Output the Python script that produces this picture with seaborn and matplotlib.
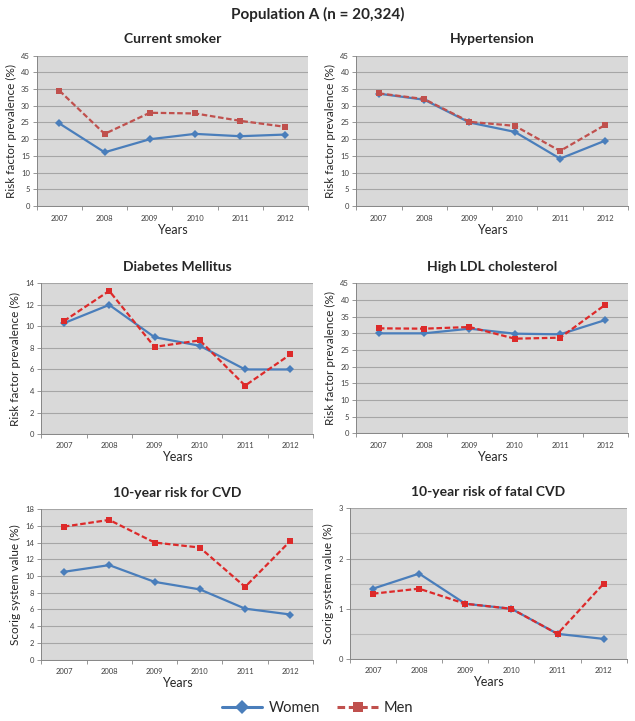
import pandas as pd
import matplotlib.pyplot as plt
import seaborn as sns
from matplotlib.ticker import MultipleLocator, FixedLocator

# Chart data
years = ['2007', '2008', '2009', '2010', '2011', '2012']
groups = ['Women', 'Men']

smoker_women = [24.7, 16.1, 20.0, 21.6, 20.9, 21.4]
smoker_men = [34.5, 21.6, 27.9, 27.7, 25.5, 23.7]
hypert_women = [33.6, 31.8, 25.0, 22.2, 14.2, 19.6]
hypert_men = [33.7, 32.0, 25.2, 24.0, 16.5, 24.3]
diabetes_women = [10.3, 12.0, 9.0, 8.2, 6.0, 6.0]
diabetes_men = [10.5, 13.3, 8.1, 8.7, 4.5, 7.4]
ldl_women = [30.0, 30.0, 31.4, 29.9, 29.7, 34.0]
ldl_men = [31.5, 31.4, 31.9, 28.4, 28.7, 38.6]
cvd_women = [10.5, 11.3, 9.3, 8.4, 6.1, 5.4]
cvd_men = [15.9, 16.7, 14.0, 13.4, 8.7, 14.2]
fatal_women = [1.4, 1.7, 1.1, 1.0, 0.5, 0.4]
fatal_men = [1.3, 1.4, 1.1, 1.0, 0.5, 1.5]

titles = ['Current smoker', 'Hypertension', 'Diabetes Mellitus',
          'High LDL cholesterol', '10-year risk for CVD', '10-year risk of fatal CVD']
ylabels = ['Risk factor prevalence (%)'] * 4 + ['Scorig system value (%)'] * 2
series = [(smoker_women, smoker_men), (hypert_women, hypert_men),
          (diabetes_women, diabetes_men), (ldl_women, ldl_men),
          (cvd_women, cvd_men), (fatal_women, fatal_men)]
ymax = [45, 45, 14, 45, 18, 3]
ystep = [5, 5, 2, 5, 2, 1]

sns.set_theme(style='white')
plt.rcParams['font.family'] = ['Lato', 'DejaVu Sans']

blue = '#4a7ebb'
red_dull = '#c0504d'
red_bright = '#dd2a2a'

fig = plt.figure(figsize=(6.35, 7.21), dpi=100)
positions = [
    [0.058, 0.714, 0.427, 0.209],
    [0.561, 0.714, 0.428, 0.209],
    [0.065, 0.398, 0.428, 0.209],
    [0.561, 0.399, 0.428, 0.208],
    [0.065, 0.085, 0.428, 0.209],
    [0.551, 0.086, 0.436, 0.209],
]

handles = None
for i, pos in enumerate(positions):
    ax = fig.add_axes(pos)
    ax.set_facecolor('#d9d9d9')
    women, men = series[i]
    df = pd.DataFrame({
        'Year': years * 2,
        'Value': women + men,
        'Sex': ['Women'] * len(years) + ['Men'] * len(years),
    })
    red = red_dull if i < 2 else red_bright
    sns.lineplot(data=df, x='Year', y='Value', hue='Sex', style='Sex',
                 hue_order=groups, style_order=groups,
                 palette={'Women': blue, 'Men': red},
                 markers={'Women': 'D', 'Men': 's'},
                 dashes={'Women': '', 'Men': (2.5, 1.2)},
                 linewidth=1.6, markersize=4, markeredgewidth=0,
                 ax=ax)
    if i == 0:
        handles, labels = ax.get_legend_handles_labels()
    ax.get_legend().remove()

    ax.set_xlim(-0.5, 5.5)
    ax.set_ylim(0, ymax[i])
    ax.yaxis.set_major_locator(MultipleLocator(ystep[i]))
    if i == 5:
        ax.yaxis.set_minor_locator(MultipleLocator(0.5))
        ax.grid(axis='y', which='minor', color='#b8b8b8', linewidth=0.8)
    ax.grid(axis='y', which='major', color='#a6a6a6', linewidth=0.8)
    ax.set_axisbelow(True)
    ax.xaxis.set_minor_locator(FixedLocator([-0.5 + k for k in range(7)]))
    ax.tick_params(axis='x', which='major', length=0, labelsize=5.5,
                   labelcolor='#404040', pad=6)
    ax.tick_params(axis='x', which='minor', length=3, color='#868686',
                   width=0.6, bottom=True)
    ax.tick_params(axis='y', which='major', length=3, color='#868686',
                   width=0.6, labelsize=5.5, labelcolor='#404040', left=True, pad=2)
    ax.tick_params(axis='y', which='minor', length=0)

    for side in ['top', 'right']:
        ax.spines[side].set_visible(False)
    for side in ['left', 'bottom']:
        ax.spines[side].set_color('#868686')
        ax.spines[side].set_linewidth(0.7)

    ax.set_title(titles[i], fontsize=10, fontweight='bold', pad=9)
    ax.set_xlabel('Years', fontsize=9, labelpad=1.5, color='#262626')
    ax.set_ylabel(ylabels[i], fontsize=8.5, labelpad=3, color='#262626')

fig.suptitle('Population A (n = 20,324)', fontsize=11, fontweight='bold',
             y=0.99)
for h in handles:
    h.set_markersize(7)
    h.set_linewidth(2.2)
fig.legend(handles, labels, loc='center', bbox_to_anchor=(0.5, 0.018),
           ncol=2, frameon=False, fontsize=10.5, handlelength=2.8,
           columnspacing=1.2, handletextpad=0.4)

fig.savefig('out.png', dpi=100)
